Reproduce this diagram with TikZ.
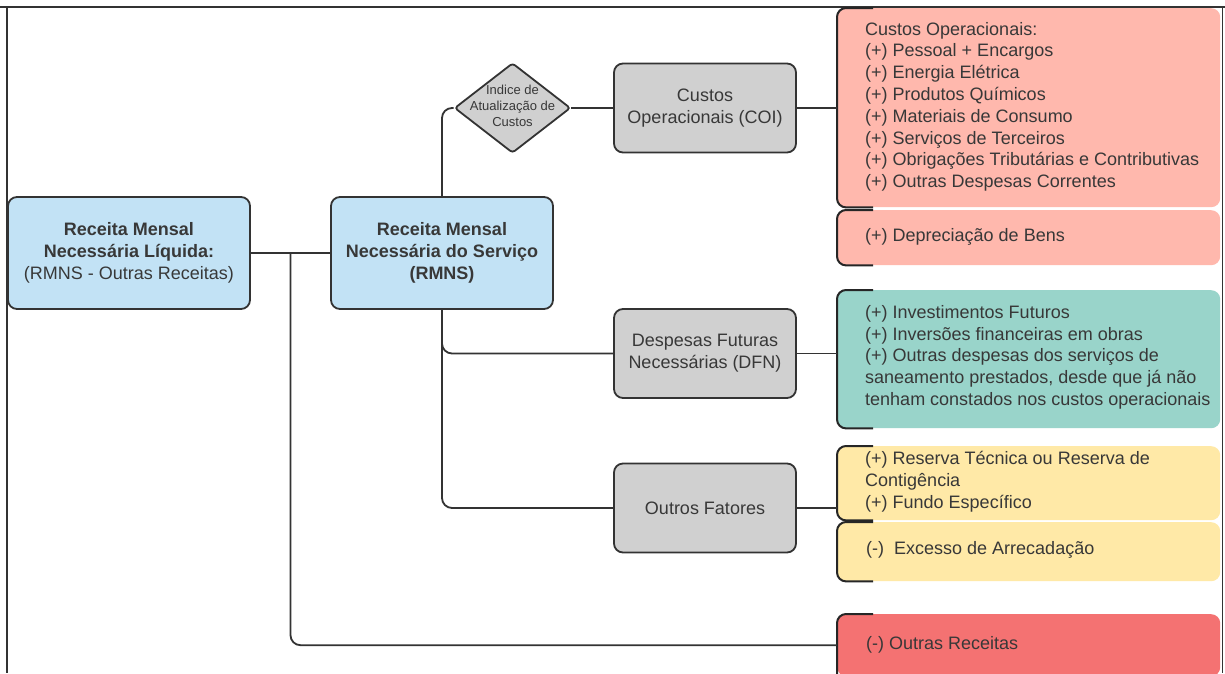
\documentclass[tikz,border=0pt]{standalone}
\usepackage{fontspec}
\setmainfont{Liberation Sans}
\usetikzlibrary{shapes.geometric,calc}
\definecolor{linec}{HTML}{333333}
\definecolor{textc}{HTML}{383838}
\definecolor{bluef}{HTML}{C2E2F5}
\definecolor{grayf}{HTML}{D0D0D0}
\definecolor{pinkf}{HTML}{FFB8AD}
\definecolor{tealf}{HTML}{99D4CA}
\definecolor{yellowf}{HTML}{FFE9A7}
\definecolor{redf}{HTML}{F47272}
\newcommand\myfont{\fontsize{18}{21.8}\selectfont}
\newcommand\mysmallfont{\fontsize{13}{16}\selectfont}
\begin{document}
\begin{tikzpicture}[x=1pt,y=-1pt,
  conn/.style={draw=linec, line width=1.8pt},
  framel/.style={draw=linec, line width=1.8pt},
  mainbox/.style={draw=linec, line width=1.8pt, rounded corners=9pt, align=center,
     font=\myfont, text=textc, inner sep=0pt},
  bluebox/.style={mainbox, fill=bluef, minimum height=112pt},
  graybox/.style={mainbox, fill=grayf, minimum width=182pt, minimum height=89pt},
  cbox/.style={fill=#1, rounded corners=9pt, inner sep=0pt, anchor=north west, minimum width=383pt},
  bracket/.style={draw=black!85, line width=2pt, rounded corners=9pt},
  txt/.style={anchor=west, align=left, inner sep=0pt, text=textc, font=\myfont}
]
\useasboundingbox (0,0) rectangle (1225,673);
\clip (0,0) rectangle (1225,673);
\fill[white] (0,0) rectangle (1225,673);

% frame
\draw[framel] (0,7) -- (1225,7);
\draw[framel] (7,7) -- (7,673);
\draw[framel] (1222.5,7) -- (1222.5,673);

% left boxes
\node[bluebox, minimum width=242pt] (l) at (129,253)
  {\textbf{Receita Mensal}\\\textbf{Necessária Líquida:}\\(RMNS - Outras Receitas)};
\node[bluebox, minimum width=222pt] (m) at (442,253)
  {\textbf{Receita Mensal}\\\textbf{Necessária do Serviço}\\\textbf{(RMNS)}};

% diamond
\node[diamond, draw=linec, line width=1.8pt, fill=grayf, rounded corners=3pt,
      minimum width=116pt, minimum height=90pt, inner sep=0pt] (dia) at (512.5,108) {};
\node[align=center, font=\mysmallfont, text=textc, inner sep=0pt] (diat) at (512.5,106)
  {Indice de\\Atualização de\\Custos};

% gray boxes
\node[graybox] (coi) at (705,108) {Custos\\Operacionais (COI)};
\node[graybox] (dfn) at (705,353.5) {Despesas Futuras\\Necessárias (DFN)};
\node[graybox] (of) at (705,508) {Outros Fatores};

% coloured boxes
\node[cbox=pinkf, minimum height=199pt] (co) at (837,8) {};
\node[cbox=pinkf, minimum height=55pt] (dep) at (837,210) {};
\node[cbox=tealf, minimum height=138pt] (dfnl) at (837,290) {};
\node[cbox=yellowf, minimum height=74pt] (res) at (837,446) {};
\node[cbox=yellowf, minimum height=59pt] (exc) at (837,522) {};
\node[cbox=redf, minimum height=62pt] (orc) at (837,614) {};

% brackets
\foreach \b in {co,dep,dfnl,res,exc}{
  \draw[bracket] ([xshift=36pt]\b.north west) -- (\b.north west) -- (\b.south west) -- ([xshift=36pt]\b.south west);
}
\draw[bracket] ([xshift=36pt]orc.north west) -- (orc.north west) -- (orc.south west);

% texts
\node[txt] (cot) at ([xshift=28pt,yshift=1pt]co.west)
  {Custos Operacionais:\\(+) Pessoal + Encargos\\(+) Energia Elétrica\\(+) Produtos Químicos\\(+) Materiais de Consumo\\(+) Serviços de Terceiros\\(+) Obrigações Tributárias e Contributivas\\(+) Outras Despesas Correntes};
\node[txt] (dept) at ([xshift=28pt,yshift=1pt]dep.west) {(+) Depreciação de Bens};
\node[txt] (dfnlt) at ([xshift=28pt,yshift=2pt]dfnl.west)
  {(+) Investimentos Futuros\\(+) Inversões financeiras em obras\\(+) Outras despesas dos serviços de\\saneamento prestados, desde que já não\\tenham constados nos custos operacionais};
\node[txt] (rest) at ([xshift=28pt,yshift=1.5pt]res.west)
  {(+) Reserva Técnica ou Reserva de\\Contigência\\(+) Fundo Específico};
\node[txt] (exct) at ([xshift=29pt,yshift=2pt]exc.west) {(-)\ \ Excesso de Arrecadação};
\node[txt] (orct) at ([xshift=29pt]orc.west) {(-) Outras Receitas};

% connectors
\coordinate (j1) at ($(l.east)!0.5!(m.west)$);
\draw[conn] (l.east) -- (m.west);
\draw[conn, rounded corners=10pt] (j1) |- (orc.west);
\draw[conn, rounded corners=10pt] (m.north) |- (dia.west);
\draw[conn] (dia.east) -- (coi.west);
\draw[conn] (coi.east) -- (coi.east -| co.west);
\draw[conn, rounded corners=10pt] (m.south) |- (dfn.west);
\draw[conn, rounded corners=10pt] (m.south) |- (of.west);
\draw[conn] (dfn.east) -- (dfn.east -| dfnl.west);
\draw[conn] (of.east) -- (of.east -| res.west);
\end{tikzpicture}
\end{document}
